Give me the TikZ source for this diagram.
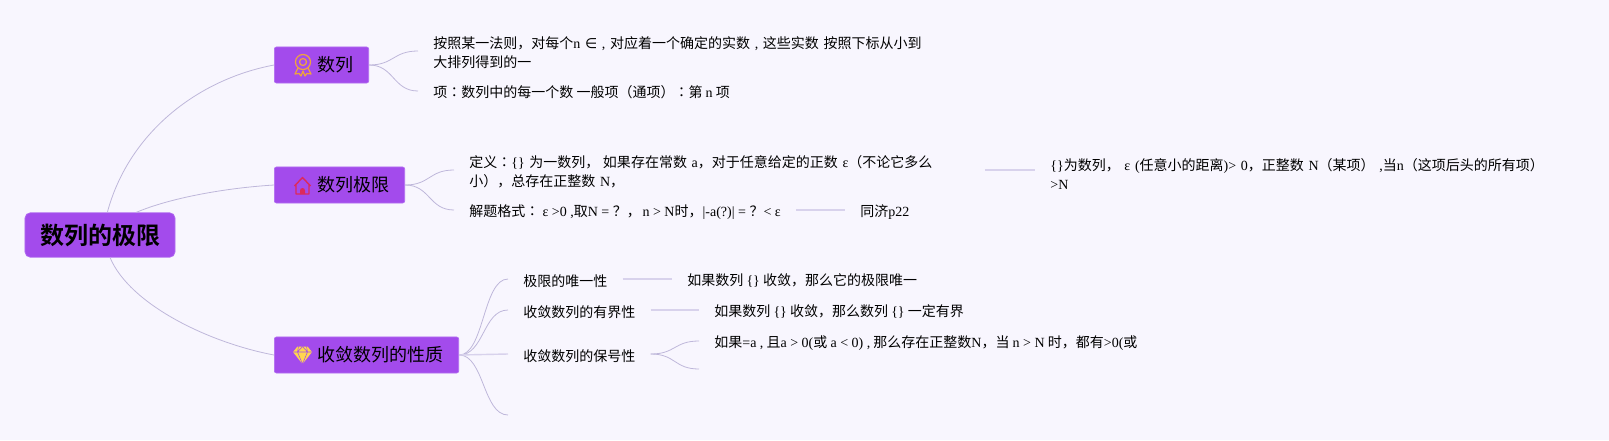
\documentclass[tikz,border=0pt]{standalone}
\usepackage{fontspec}
\setmainfont{Noto Sans CJK SC}[BoldFont=* Bold]
\newfontfamily\latinfont{Liberation Serif}
\newfontfamily\symbolfont{DejaVu Sans}
\newfontfamily\colonfont{Noto Sans CJK TC}
\newcommand{\en}[1]{{\latinfont #1}}
\newcommand{\colonmark}{{\colonfont ：}}
\definecolor{pagebg}{HTML}{F8F6FE}
\definecolor{boxfill}{HTML}{A34BEC}
\definecolor{boxedge}{HTML}{B26DF0}
\definecolor{branchline}{HTML}{BEB7DA}
\definecolor{linkline}{HTML}{D8D2EC}
\definecolor{medal}{HTML}{EFA33E}
\definecolor{roof}{HTML}{DC2A5C}
\definecolor{gem}{HTML}{FFD54F}
\tikzset{
         rootbox/.style={fill=boxfill,draw=boxedge,rounded corners=3pt,minimum width=85.4pt,minimum height=25.3pt,inner sep=0pt,font=\fontsize{13.66}{16}\selectfont\bfseries},
         topicbox/.style={fill=boxfill,draw=boxedge,rounded corners=1.2pt,anchor=west,minimum height=20.5pt,inner xsep=8.6pt,inner ysep=0pt,font=\fontsize{10.25}{12}\selectfont,execute at begin node={\hspace*{16pt}}},
         leaf/.style={anchor=west,inner xsep=8.54pt,inner ysep=1pt,align=left,font=\fontsize{7.97}{11.2}\selectfont,execute at begin node={\rule{0pt}{8.7pt}}},
         wideleaf/.style={leaf,text width=284.6pt},
         branch/.style={branchline,line width=.45pt},
         link/.style={linkline,line width=.8pt}
        }
\begin{document}
\begin{tikzpicture}[x=.02cm,y=-.02cm]
\useasboundingbox[fill=pagebg](0,0)rectangle(1609,440);
%root and topics
\node[rootbox](root)at(100,235){数列的极限};
\node[topicbox](shulie)at(274,65){数列};
\node[topicbox](jixian)at(274,185){数列极限};
\node[topicbox](xingzhi)at(274,355){收敛数列的性质};
%first topic
\node[wideleaf](rule)at(418,51){按照某一法则，对每个\en{n} {\symbolfont ∈} \en{,} 对应着一个确定的实数 \en{,} 这些实数 按照下标从小到\\大排列得到的一};
\node[leaf](term)at(418,91){项\colonmark 数列中的每一个数 一般项（通项）\colonmark 第 \en{n} 项};
%second topic
\node[wideleaf](define)at(454,170){定义\colonmark\en{\{\}} 为一数列，\hspace{2pt}如果存在常数 \en{a}，对于任意给定的正数 \en{ε}（不论它多么\\小），总存在正整数 \en{N}，};
\node[wideleaf](explain)at(1035,172.5){\en{\{\}}为数列， \en{ε (}任意小的距离\en{)> 0}，正整数 \en{N}（某项） \en{,}当\en{n}（这项后头的所有项）\\\en{>N}};
\node[leaf](format)at(454,210){解题格式\colonmark{} \en{ε >0 ,}取\en{N = }？，\hspace{1pt}\en{n > N}时，\en{|-a(?)| = }？\en{< ε}};
\node[leaf](tongji)at(845,210){同济\en{p22}};
%third topic
\node[leaf](unique)at(508,279){极限的唯一性};
\node[leaf](uniquetext)at(672,279){如果数列 \en{\{\}} 收敛，那么它的极限唯一};
\node[leaf](bounded)at(508,310){收敛数列的有界性};
\node[leaf](boundedtext)at(699,310){如果数列 \en{\{\}} 收敛，那么数列 \en{\{\}} 一定有界};
\node[leaf](sign)at(508,354){收敛数列的保号性};
\node[leaf](signtext)at(699,341){如果\en{=a ,} 且\en{a > 0(}或 \en{a < 0) ,} 那么存在正整数\en{N}，当 \en{n > N} 时，都有\en{>0(}或};
\coordinate(signfree)at(699,369);
\coordinate(lastfree)at(508,415);
%curves from the root
\draw[branch](root.72)..controls(128,135)and(195,80)..(shulie.west);
\draw[branch](root.32)..controls(170,198)and(225,188)..(jixian.west);
\draw[branch](root.-66)..controls(130,305)and(210,343)..(xingzhi.west);
%forks
\foreach \from/\to in {shulie.east/rule.west,shulie.east/term.west,jixian.east/define.west,jixian.east/format.west,xingzhi.east/unique.west,xingzhi.east/bounded.west,xingzhi.east/lastfree,sign.east/signtext.west,sign.east/signfree}
{
\draw[branch](\from)..controls +(25,0)and +(-25,0)..(\to);
}
%straight links
\foreach \from/\to in {format.east/tongji.west,unique.east/uniquetext.west,bounded.east/boundedtext.west,xingzhi.east/sign.west}
{
\draw[link](\from)--(\to);
}
\draw[link](define.east)--(define.east-|explain.west);
%medal
\draw[medal,line width=.7pt](303,62)circle(7.5);
\draw[medal,line width=.7pt](303,62)circle(3.5);
\draw[medal,line width=.7pt,line join=round](298,68)--(295,74)--(299,73.5)--(301,76)--(303,71)--(305,76)--(307,73.5)--(311,74)--(308,68);
%house
\draw[roof,line width=.8pt,line join=round](294.5,186)--(302.5,177.5)--(310.5,186)(296,185)--(296,194)--(309,194)--(309,185);
\fill[roof](300,194)--(300,190.5)arc(180:360:2.5)--(305,194)--cycle;
%diamond
\fill[gem](297.5,346.5)--(307.5,346.5)--(312,352)--(302.5,364)--(293,352)--cycle;
\draw[boxfill,line width=.3pt](293,352)--(312,352)(298.5,346.5)--(297.5,352)--(302.5,364)--(307.5,352)--(306.5,346.5)(302.5,346.5)--(297.5,352)(302.5,346.5)--(307.5,352);
\end{tikzpicture}
\end{document}
